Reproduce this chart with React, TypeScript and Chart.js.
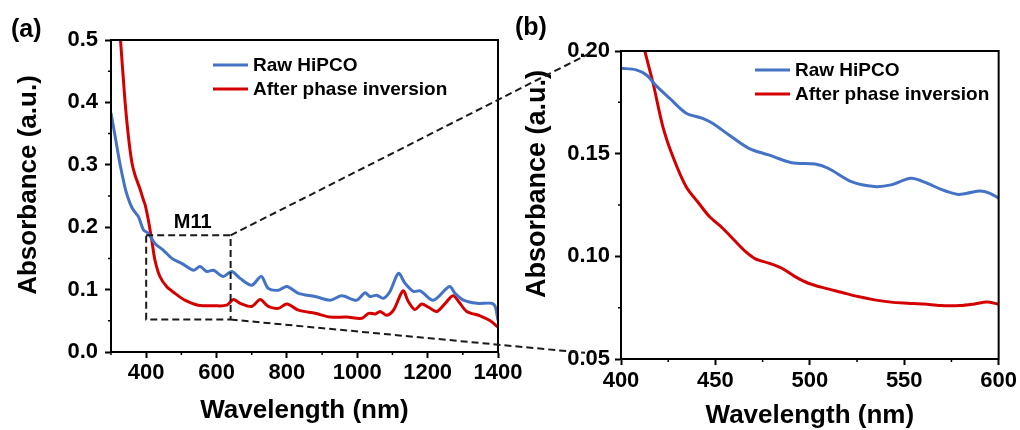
import React, { useEffect, useRef } from "react";
import { Chart, registerables } from "chart.js";
Chart.register(...registerables);

// ---------- DATA ----------
// Panel (a): full spectrum
const rawWavelengthA = [300, 311, 326, 340, 349, 359, 368, 378, 392, 406, 425, 449, 473, 501, 534, 553, 572, 591, 619, 643, 667, 700, 727, 747, 776, 800, 833, 880, 923, 956, 998, 1022, 1036, 1055, 1074, 1093, 1117, 1136, 1160, 1179, 1216, 1262, 1278, 1302, 1340, 1382, 1392, 1397, 1400];
const rawAbsA = [0.383, 0.348, 0.300, 0.263, 0.246, 0.232, 0.224, 0.217, 0.196, 0.190, 0.174, 0.163, 0.150, 0.142, 0.131, 0.137, 0.129, 0.131, 0.121, 0.129, 0.118, 0.107, 0.121, 0.102, 0.099, 0.105, 0.094, 0.089, 0.083, 0.090, 0.083, 0.095, 0.089, 0.091, 0.086, 0.097, 0.126, 0.110, 0.097, 0.098, 0.083, 0.105, 0.094, 0.083, 0.078, 0.078, 0.073, 0.060, 0.051];
const invWavelengthA = [327, 340, 349, 359, 368, 382, 392, 397, 406, 416, 425, 439, 458, 482, 510, 548, 596, 629, 648, 667, 700, 724, 747, 776, 800, 833, 880, 923, 970, 1013, 1032, 1051, 1065, 1084, 1103, 1130, 1145, 1164, 1183, 1202, 1226, 1250, 1272, 1288, 1311, 1349, 1378, 1400];
const invAbsA = [0.500, 0.401, 0.348, 0.305, 0.284, 0.262, 0.244, 0.236, 0.212, 0.179, 0.147, 0.121, 0.105, 0.094, 0.083, 0.075, 0.074, 0.075, 0.084, 0.078, 0.073, 0.084, 0.073, 0.070, 0.077, 0.067, 0.062, 0.056, 0.056, 0.054, 0.062, 0.061, 0.065, 0.059, 0.067, 0.098, 0.081, 0.068, 0.077, 0.072, 0.065, 0.078, 0.090, 0.081, 0.065, 0.058, 0.050, 0.040];

// Panel (b): zoom 400-600 nm
const rawWavelengthB = [400, 408, 413.5, 418.7, 425.7, 434.5, 443.2, 448.5, 457.2, 467.7, 478.2, 490.4, 502.7, 509.7, 522, 534.2, 543, 553.5, 562.2, 569.2, 578, 583.2, 590.2, 595.4, 600];
const rawAbsB = [0.1916, 0.1908, 0.1883, 0.183, 0.177, 0.1697, 0.1672, 0.1648, 0.1591, 0.1526, 0.1494, 0.1456, 0.145, 0.1429, 0.1364, 0.134, 0.1348, 0.138, 0.1356, 0.1327, 0.1302, 0.1307, 0.1318, 0.1307, 0.1283];
const invWavelengthB = [405, 410, 412.6, 417, 422.2, 427.5, 434.5, 441.5, 446.7, 453.7, 460.7, 466, 471.2, 478.2, 485.2, 492.2, 499.2, 508, 516.7, 525.5, 534.2, 543, 551.7, 560.5, 569.2, 579.7, 586.7, 593.7, 600];
const invAbsB = [0.232, 0.21, 0.2, 0.1843, 0.1631, 0.1485, 0.1339, 0.1255, 0.1195, 0.1138, 0.1072, 0.1023, 0.0988, 0.0967, 0.0942, 0.0901, 0.0869, 0.0845, 0.0825, 0.0804, 0.0788, 0.0777, 0.0772, 0.0768, 0.076, 0.076, 0.0767, 0.0777, 0.0767];

const seriesLabels = ["Raw HiPCO", "After phase inversion"];
const xTicksA = [400, 600, 800, 1000, 1200, 1400];
const xMinorA = [300, 500, 700, 900, 1100, 1300];
const yTicksA = [0, 0.1, 0.2, 0.3, 0.4, 0.5];
const yMinorA = [0.05, 0.15, 0.25, 0.35, 0.45];
const xTicksB = [400, 450, 500, 550, 600];
const xMinorB = [425, 475, 525, 575];
const yTicksB = [0.05, 0.1, 0.15, 0.2];
const yMinorB = [0.075, 0.125, 0.175];

// zoom box in panel (a), and where the connectors end (panel b coords)
const boxWavelength = [400, 640];
const boxAbs = [0.052, 0.187];
const connectorEndWavelength = [384.8, 381];
const connectorEndAbs = [0.1995, 0.053];

const BLUE = "#4472c4";
const RED = "#d40000";
const FONT = "'Liberation Sans', Arial, Helvetica, sans-serif";

const toPts = (xs: number[], ys: number[]) => xs.map((x, i) => ({ x, y: ys[i] }));

function decorPlugin(opts: any) {
  return {
    id: "decor_" + opts.name,
    afterDraw(chart: any) {
      const { ctx, chartArea } = chart;
      const x = chart.scales.x;
      const y = chart.scales.y;
      ctx.save();
      // frame
      ctx.strokeStyle = "#000";
      ctx.lineWidth = 2;
      ctx.strokeRect(chartArea.left, chartArea.top, chartArea.right - chartArea.left, chartArea.bottom - chartArea.top);
      // minor ticks
      ctx.lineWidth = 1.5;
      ctx.beginPath();
      opts.xMinor.forEach((v: number) => {
        const px = x.getPixelForValue(v);
        ctx.moveTo(px, chartArea.bottom);
        ctx.lineTo(px, chartArea.bottom + 3);
      });
      opts.yMinor.forEach((v: number) => {
        const py = y.getPixelForValue(v);
        ctx.moveTo(chartArea.left, py);
        ctx.lineTo(chartArea.left - 3, py);
      });
      ctx.stroke();
      // legend
      ctx.font = `bold 19px ${FONT}`;
      ctx.textBaseline = "middle";
      ctx.textAlign = "left";
      chart.data.datasets.forEach((ds: any, i: number) => {
        const lx = chartArea.left + opts.legendDx;
        const ly = chartArea.top + opts.legendDy + i * 24;
        ctx.strokeStyle = ds.borderColor;
        ctx.lineWidth = 3;
        ctx.beginPath();
        ctx.moveTo(lx, ly);
        ctx.lineTo(lx + 35, ly);
        ctx.stroke();
        ctx.fillStyle = "#000";
        ctx.fillText(ds.label, lx + 40, ly + 1);
      });
      // y-axis title
      ctx.save();
      ctx.font = `bold ${opts.yTitleSize}px ${FONT}`;
      ctx.textAlign = "center";
      ctx.translate(opts.yTitleX, opts.yTitleY);
      ctx.rotate(-Math.PI / 2);
      ctx.fillText("Absorbance (a.u.)", 0, 0);
      ctx.restore();
      // panel label
      ctx.font = `bold 25px ${FONT}`;
      ctx.textAlign = "left";
      ctx.fillText(opts.panel, opts.panelX, opts.panelY);
      if (opts.extra) opts.extra(chart);
      ctx.restore();
    },
  };
}

function makeOptions(o: any) {
  const tickFont = { family: FONT, size: o.tickSize, weight: "bold" as const };
  const titleFont = { family: FONT, size: 26, weight: "bold" as const, lineHeight: 1 };
  return {
    responsive: false,
    animation: false as const,
    layout: { padding: o.padding },
    plugins: { legend: { display: false }, tooltip: { enabled: false } },
    elements: { point: { radius: 0 } },
    scales: {
      x: {
        type: "linear" as const,
        min: o.xMin,
        max: o.xMax,
        afterBuildTicks: (s: any) => { s.ticks = o.xTicks.map((v: number) => ({ value: v })); },
        afterFit: (s: any) => { s.height = o.xHeight; },
        grid: { drawOnChartArea: false, drawTicks: true, tickLength: 6, color: "#000", tickWidth: 2 },
        border: { display: true, color: "#000", width: 2 },
        ticks: { color: "#000", font: tickFont, padding: o.xTickPad, maxRotation: 0, autoSkip: false, callback: (v: any) => String(v) },
        title: { display: true, text: "Wavelength (nm)", color: "#000", font: titleFont, padding: { top: 0, bottom: o.xTitlePad } },
      },
      y: {
        type: "linear" as const,
        min: o.yMin,
        max: o.yMax,
        afterBuildTicks: (s: any) => { s.ticks = o.yTicks.map((v: number) => ({ value: v })); },
        afterFit: (s: any) => { s.width = o.yWidth; },
        grid: { drawOnChartArea: false, drawTicks: true, tickLength: 6, color: "#000", tickWidth: 2 },
        border: { display: true, color: "#000", width: 2 },
        ticks: { color: "#000", font: tickFont, padding: o.yTickPad, autoSkip: false, callback: (v: any) => Number(v).toFixed(o.yDec) },
        title: { display: false },
      },
    },
  };
}

export default function App() {
  const leftRef = useRef<HTMLCanvasElement>(null);
  const rightRef = useRef<HTMLCanvasElement>(null);

  useEffect(() => {
    const left = new Chart(leftRef.current!, {
      type: "line",
      data: {
        datasets: [
          { label: seriesLabels[0], data: toPts(rawWavelengthA, rawAbsA), borderColor: BLUE, borderWidth: 3, tension: 0.3, fill: false },
          { label: seriesLabels[1], data: toPts(invWavelengthA, invAbsA), borderColor: RED, borderWidth: 3, tension: 0.3, fill: false },
        ],
      },
      options: makeOptions({
        padding: { left: 0, top: 40, right: 522, bottom: 0 },
        tickSize: 22, xMin: 300, xMax: 1400, yMin: 0, yMax: 0.5,
        xTicks: xTicksA, yTicks: yTicksA, yDec: 1,
        xHeight: 78, yWidth: 111, xTickPad: 2, yTickPad: 7, xTitlePad: 6,
      }) as any,
      plugins: [
        decorPlugin({
          name: "a", xMinor: xMinorA, yMinor: yMinorA, legendDx: 102, legendDy: 25,
          panel: "(a)", panelX: 11, panelY: 30, yTitleX: 29, yTitleY: 185, yTitleSize: 26,
          extra: (chart: any) => {
            const { ctx } = chart;
            ctx.font = `bold 20px ${FONT}`;
            ctx.fillStyle = "#000";
            ctx.textAlign = "center";
            ctx.fillText("M11", chart.scales.x.getPixelForValue(532), chart.scales.y.getPixelForValue(0.207));
          },
        }) as any,
      ],
    });

    const right = new Chart(rightRef.current!, {
      type: "line",
      data: {
        datasets: [
          { label: seriesLabels[0], data: toPts(rawWavelengthB, rawAbsB), borderColor: BLUE, borderWidth: 3, tension: 0.3, fill: false },
          { label: seriesLabels[1], data: toPts(invWavelengthB, invAbsB), borderColor: RED, borderWidth: 3, tension: 0.3, fill: false },
        ],
      },
      options: makeOptions({
        padding: { left: 520, top: 51, right: 18, bottom: 0 },
        tickSize: 22, xMin: 400, xMax: 600, yMin: 0.05, yMax: 0.2,
        xTicks: xTicksB, yTicks: yTicksB, yDec: 2,
        xHeight: 71, yWidth: 101, xTickPad: 3, yTickPad: 5, xTitlePad: 1,
      }) as any,
      plugins: [
        decorPlugin({
          name: "b", xMinor: xMinorB, yMinor: yMinorB, legendDx: 134, legendDy: 19,
          panel: "(b)", panelX: 515, panelY: 28, yTitleX: 538, yTitleY: 184, yTitleSize: 27,
          extra: (chart: any) => {
            const { ctx } = chart;
            const lx = left.scales.x;
            const ly = left.scales.y;
            const x0 = lx.getPixelForValue(boxWavelength[0]);
            const x1 = lx.getPixelForValue(boxWavelength[1]);
            const yb = ly.getPixelForValue(boxAbs[0]);
            const yt = ly.getPixelForValue(boxAbs[1]);
            ctx.strokeStyle = "#1a1a1a";
            ctx.lineWidth = 2;
            ctx.setLineDash([7, 4]);
            ctx.beginPath();
            ctx.rect(x0, yt, x1 - x0, yb - yt);
            ctx.moveTo(x1, yt);
            ctx.lineTo(chart.scales.x.getPixelForValue(connectorEndWavelength[0]), chart.scales.y.getPixelForValue(connectorEndAbs[0]));
            ctx.moveTo(x1, yb);
            ctx.lineTo(chart.scales.x.getPixelForValue(connectorEndWavelength[1]), chart.scales.y.getPixelForValue(connectorEndAbs[1]));
            ctx.stroke();
            ctx.setLineDash([]);
          },
        }) as any,
      ],
    });

    return () => {
      left.destroy();
      right.destroy();
    };
  }, []);

  const cs: React.CSSProperties = { position: "absolute", left: 0, top: 0, width: 1020, height: 430 };
  return (
    <div style={{ position: "absolute", left: 0, top: 0, width: 1020, height: 430, background: "#fff" }}>
      <canvas ref={leftRef} width={1020} height={430} style={cs} />
      <canvas ref={rightRef} width={1020} height={430} style={cs} />
    </div>
  );
}
